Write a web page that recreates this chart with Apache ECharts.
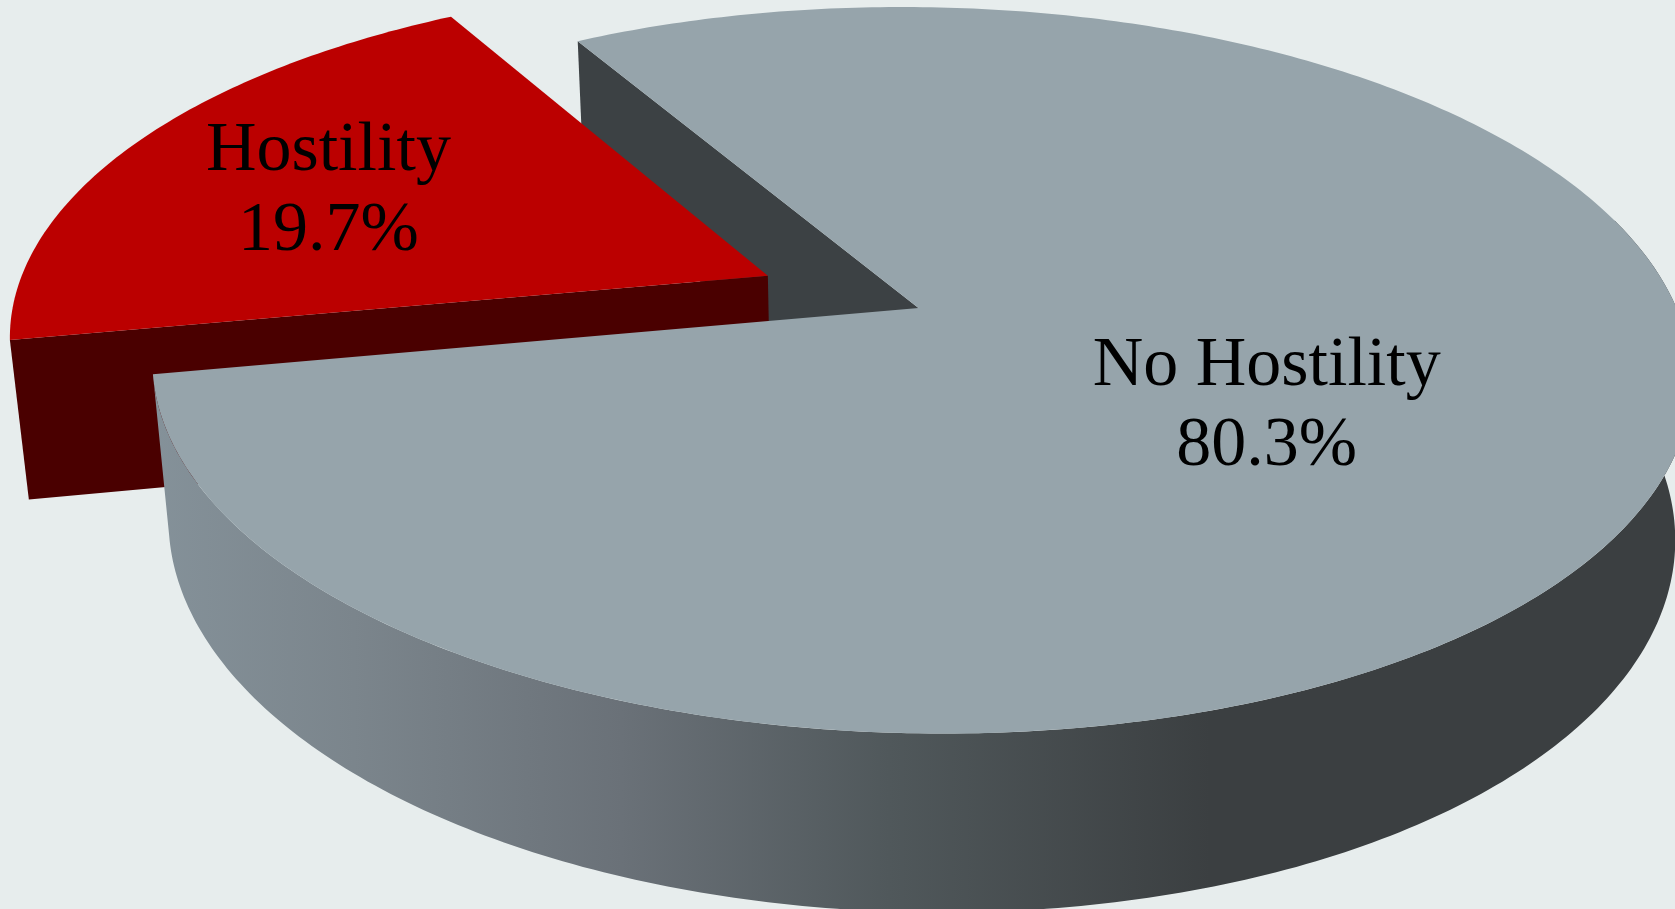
<!DOCTYPE html>
<html>
<head>
<meta charset="utf-8">
<title>Hostility share</title>
<style>
  html, body { margin: 0; padding: 0; background: #e7eded; overflow: hidden; }
  #chart { width: 1675px; height: 909px; }
</style>
<script src="https://cdn.jsdelivr.net/npm/echarts@6/dist/echarts.min.js"></script>
</head>
<body>
<div id="chart"></div>
<script>
// Share of cases by category, in percent.
const categories = ['Hostility', 'No Hostility'];
const shares = [19.7, 80.3];

// Per-slice appearance and placement on the unit disc.
const sliceExplode = [0.22, 0];
const topColors = ['#bb0000', '#96a4ab'];
const cutColors = ['#4a0000', '#3c4144'];
const labelRadius = [0.687, 0.506];
const labelTurn = [0, 5.5];
const labelNudgeX = [2, -3];
const labelNudgeY = [10, 4];

// Paint order of each part: the grey cut face sits behind the red slice,
// and the grey body sits in front of the red cut face.
const cutLayer = [2, 1];
const topLayer = [3, 5];
const wallLayer = 4;
const labelLayer = 10;

// Perspective camera of the tilted disc.
const originX = 918.5, originY = 308;
const scaleX = 758, shearX = 20, scaleY = 352.6, depthY = 161;
const tiltK = 0.1714, thicknessK = 0.021;
const startAngle = 169.5;
const frontFrom = -15, frontTo = 169.5;

const total = shares.reduce((s, v) => s + v, 0);
const rad = d => d * Math.PI / 180;

// Disc coordinates (x right, y toward the viewer, z = 0 top face, 1 bottom face) to pixels.
function project(x, y, z) {
  const w = 1 - tiltK * y + thicknessK * z;
  return [originX + (scaleX * x + shearX * y) / w, originY + (scaleY * y + depthY * z) / w];
}

function sweep(from, to) {
  const list = [];
  const steps = Math.max(2, Math.ceil(Math.abs(to - from) / 0.75));
  for (let i = 0; i <= steps; i++) list.push(from + (to - from) * i / steps);
  return list;
}

const sideFill = new echarts.graphic.LinearGradient(140, 0, 1210, 0, [
  { offset: 0, color: '#85929a' },
  { offset: 0.2, color: '#7b858c' },
  { offset: 0.45, color: '#6a7178' },
  { offset: 0.7, color: '#50585b' },
  { offset: 1, color: '#3b3f41' }
], true);

function renderSlice(params, api) {
  const i = params.dataIndex;
  const value = api.value(0);
  const before = shares.slice(0, i).reduce((s, v) => s + v, 0);
  const a0 = startAngle + before / total * 360;
  const a1 = a0 + value / total * 360;
  const mid = (a0 + a1) / 2;
  const ox = sliceExplode[i] * Math.cos(rad(mid));
  const oy = sliceExplode[i] * Math.sin(rad(mid));
  const rim = (a, z) => project(ox + Math.cos(rad(a)), oy + Math.sin(rad(a)), z);
  const hub = z => project(ox, oy, z);
  const children = [];

  // Cut face at the leading edge of the slice.
  children.push({
    type: 'polygon',
    z2: cutLayer[i],
    shape: { points: [rim(a0, 0), hub(0), hub(1), rim(a0, 1)] },
    style: { fill: cutColors[i] }
  });

  // Outer wall, only where it faces the viewer.
  const wrap = a0 >= 180 ? 360 : 0;
  const lo = Math.max(a0 - wrap, frontFrom);
  const hi = Math.min(a1 - wrap, frontTo);
  if (hi > lo) {
    const arc = sweep(lo, hi);
    const points = arc.map(a => rim(a, 0)).concat(arc.slice().reverse().map(a => rim(a, 1)));
    children.push({ type: 'polygon', z2: wallLayer, shape: { points }, style: { fill: sideFill } });
  }

  // Top face.
  children.push({
    type: 'polygon',
    z2: topLayer[i],
    shape: { points: [hub(0)].concat(sweep(a0, a1).map(a => rim(a, 0))) },
    style: { fill: topColors[i] }
  });

  // Two-line label: category and share.
  const la = rad(mid + labelTurn[i]);
  const pos = project(ox + labelRadius[i] * Math.cos(la), oy + labelRadius[i] * Math.sin(la), 0);
  children.push({
    type: 'text',
    z2: labelLayer,
    style: {
      text: categories[i] + '\n' + value.toFixed(1) + '%',
      x: pos[0] + labelNudgeX[i],
      y: pos[1] + labelNudgeY[i],
      align: 'center',
      verticalAlign: 'middle',
      fontFamily: '"Liberation Serif", serif',
      fontSize: 70,
      lineHeight: 80,
      fill: '#000000'
    }
  });

  return { type: 'group', children };
}

const chart = echarts.init(document.getElementById('chart'), null, { renderer: 'canvas' });
chart.setOption({
  backgroundColor: '#e7eded',
  animation: false,
  series: [{
    type: 'custom',
    coordinateSystem: 'none',
    silent: true,
    renderItem: renderSlice,
    data: shares.map(v => [v])
  }]
});
</script>
</body>
</html>
